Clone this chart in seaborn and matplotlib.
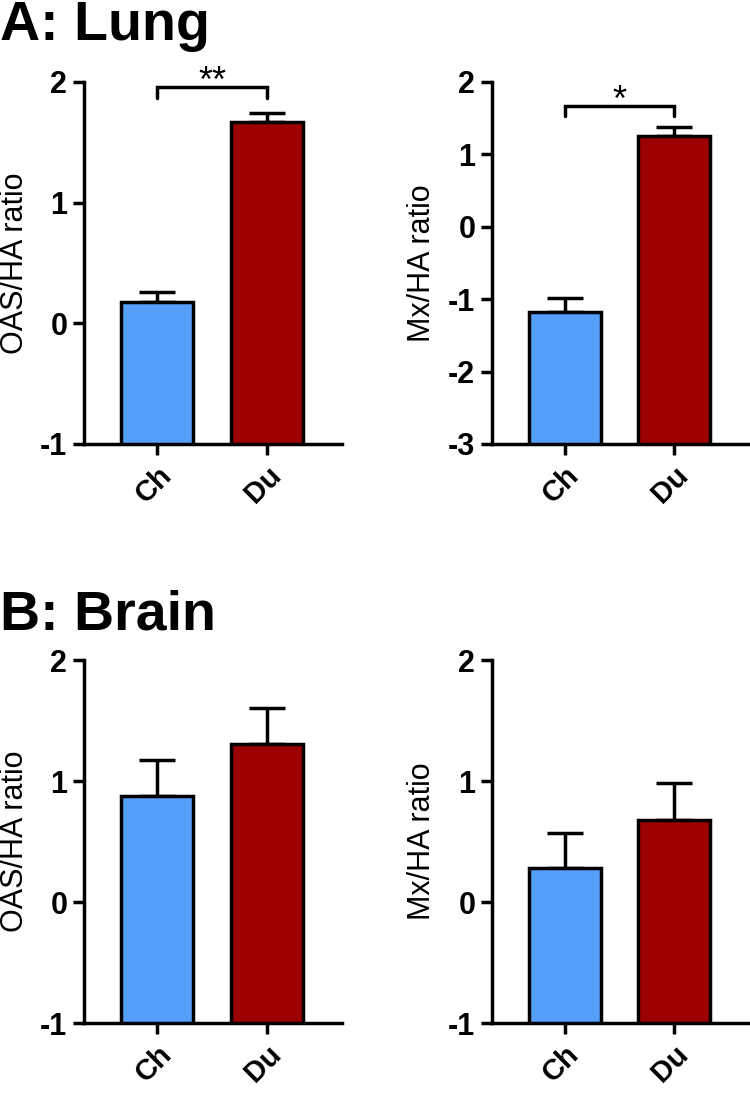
import numpy as np
import pandas as pd
import matplotlib
matplotlib.use("Agg")
import matplotlib.pyplot as plt
import seaborn as sns

groups = ["Ch", "Du"]
colors = ["#56A0FB", "#9C0000"]

lung_oas_mean = [0.18, 1.67]
lung_oas_sem = [0.08, 0.07]
lung_mx_mean = [-1.18, 1.25]
lung_mx_sem = [0.20, 0.13]
brain_oas_mean = [0.88, 1.31]
brain_oas_sem = [0.29, 0.29]
brain_mx_mean = [0.28, 0.68]
brain_mx_sem = [0.29, 0.30]

oas_ticks = [-1, 0, 1, 2]
mx_lung_ticks = [-3, -2, -1, 0, 1, 2]
mx_brain_ticks = [-1, 0, 1, 2]

sns.set_style("ticks")
plt.rcParams["font.family"] = ["Liberation Sans", "DejaVu Sans"]
for key in ["text.color", "axes.labelcolor", "xtick.color", "ytick.color",
            "axes.edgecolor"]:
    plt.rcParams[key] = "black"

LW = 2.5


def bar_panel(ax, means, sems, ticks, ylabel, label_x, sig=None):
    df = pd.DataFrame({"group": groups, "value": means})
    sns.barplot(data=df, x="group", y="value", hue="group", palette=colors,
                saturation=1, width=0.66, edgecolor="black", linewidth=LW,
                legend=False, errorbar=None, ax=ax, zorder=3)
    ymin, ymax = ticks[0], ticks[-1]
    # bars start from the bottom of the axis, GraphPad style
    for p, v in zip(ax.patches, means):
        p.set_y(ymin)
        p.set_height(v - ymin)
    ax.errorbar(range(len(means)), means, yerr=[np.zeros(len(sems)), sems],
                fmt="none", ecolor="black", elinewidth=LW, capsize=13,
                capthick=LW, zorder=2)
    ax.set_ylim(ymin, ymax)
    ax.set_xlim(-0.665, 1.68)
    ax.set_yticks(ticks)
    ax.set_yticklabels([str(t) for t in ticks], fontsize=22, fontweight="bold")
    ax.set_xticks([0, 1])
    ax.set_xticklabels(groups, fontsize=21, fontweight="bold", rotation=45,
                       ha="right", va="top", rotation_mode="anchor")
    ax.set_xlabel("")
    ax.set_ylabel(ylabel, fontsize=22)
    ax.yaxis.set_label_coords(label_x, 0.5)
    sns.despine(ax=ax)
    for s in ["left", "bottom"]:
        ax.spines[s].set_linewidth(LW)
    ax.tick_params(axis="both", width=LW, length=8, direction="out", pad=4)
    if sig is not None:
        y_top, y_leg, stars = sig
        ax.plot([0, 0, 1, 1], [y_leg, y_top, y_top, y_leg], color="black",
                lw=LW, solid_joinstyle="miter", clip_on=False)
        ax.annotate(stars, xy=(0.5, y_top), xytext=(0, -4),
                    textcoords="offset points", ha="center", va="baseline",
                    fontsize=26, annotation_clip=False)


fig = plt.figure(figsize=(7.5, 11.2), dpi=100)

ax1 = fig.add_axes([0.112, 0.6036, 0.344, 0.3232])
ax2 = fig.add_axes([0.656, 0.6036, 0.341, 0.3232])
ax3 = fig.add_axes([0.112, 0.0866, 0.344, 0.3241])
ax4 = fig.add_axes([0.656, 0.0866, 0.341, 0.3241])

bar_panel(ax1, lung_oas_mean, lung_oas_sem, oas_ticks, "OAS/HA ratio", -0.209,
          sig=(1.96, 1.87, "**"))
bar_panel(ax2, lung_mx_mean, lung_mx_sem, mx_lung_ticks, "Mx/HA ratio", -0.215,
          sig=(1.67, 1.53, "*"))
bar_panel(ax3, brain_oas_mean, brain_oas_sem, oas_ticks, "OAS/HA ratio", -0.209)
bar_panel(ax4, brain_mx_mean, brain_mx_sem, mx_brain_ticks, "Mx/HA ratio", -0.215)

fig.text(0.0, 1 - 40 / 1120, "A: Lung", fontsize=40, fontweight="bold",
         ha="left", va="baseline")
fig.text(0.0, 1 - 629 / 1120, "B: Brain", fontsize=40, fontweight="bold",
         ha="left", va="baseline")

fig.savefig("out.png", dpi=100)
